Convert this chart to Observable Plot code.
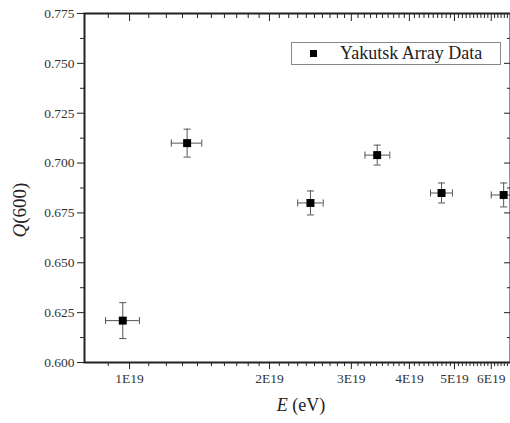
<!DOCTYPE html>
<html><head><meta charset="utf-8">
<script src="https://cdn.jsdelivr.net/npm/d3@7"></script>
<script src="https://cdn.jsdelivr.net/npm/@observablehq/plot@0.6"></script>
<style>
body{margin:0;background:#fff;}
#wrap{position:relative;width:510px;height:423px;font-family:"Liberation Serif","Times New Roman",Times,"DejaVu Serif",serif;overflow:hidden;}
#wrap svg text{font-family:"Liberation Serif","Times New Roman",Times,"DejaVu Serif",serif !important;}
.legend{position:absolute;left:291px;top:42px;width:210px;height:23px;border:1px solid #888;box-sizing:border-box;background:#fff;}
.legend .sw{position:absolute;left:18px;top:7px;width:7px;height:7px;background:#000;}
.legend .lb{position:absolute;left:48px;top:0px;font-size:18px;line-height:21px;color:#222;white-space:nowrap;}
</style></head><body><div id="wrap"></div><script>
// data
const energy = [9.67e18, 1.33e19, 2.45e19, 3.41e19, 4.69e19, 6.38e19];
const energyLow = [8.88e18, 1.23e19, 2.30e19, 3.21e19, 4.44e19, 6.0e19];
const energyHigh = [1.05e19, 1.43e19, 2.61e19, 3.63e19, 4.95e19, 6.8e19];
const q600 = [0.621, 0.710, 0.680, 0.704, 0.685, 0.684];
const q600Low = [0.612, 0.703, 0.674, 0.699, 0.680, 0.678];
const q600High = [0.630, 0.717, 0.686, 0.709, 0.690, 0.690];
const xMajor = [1e19, 2e19, 3e19, 4e19, 5e19, 6e19];
const xLabels = ["1E19", "2E19", "3E19", "4E19", "5E19", "6E19"];
const xMinor = [9e18, 1.1e19, 1.2e19, 1.3e19, 1.4e19, 1.5e19, 1.6e19, 1.7e19, 1.8e19, 1.9e19,
  2.1e19, 2.2e19, 2.3e19, 2.4e19, 2.5e19, 2.6e19, 2.7e19, 2.8e19, 2.9e19,
  3.1e19, 3.2e19, 3.3e19, 3.4e19, 3.5e19, 3.6e19, 3.7e19, 3.8e19, 3.9e19,
  4.1e19, 4.2e19, 4.3e19, 4.4e19, 4.5e19, 4.6e19, 4.7e19, 4.8e19, 4.9e19,
  5.1e19, 5.2e19, 5.3e19, 5.4e19, 5.5e19, 5.6e19, 5.7e19, 5.8e19, 5.9e19,
  6.1e19, 6.2e19, 6.3e19, 6.4e19, 6.5e19];
const yMajor = [0.600, 0.625, 0.650, 0.675, 0.700, 0.725, 0.750, 0.775];
const yLabels = ["0.600", "0.625", "0.650", "0.675", "0.700", "0.725", "0.750", "0.775"];
const yMinor = [0.6125, 0.6375, 0.6625, 0.6875, 0.7125, 0.7375, 0.7625];

const rows = energy.map((e, i) => ({e, lo: energyLow[i], hi: energyHigh[i], q: q600[i], qlo: q600Low[i], qhi: q600High[i]}));

const capH = {draw(ctx, size) { const r = Math.sqrt(size) / 2; ctx.moveTo(-r, 0); ctx.lineTo(r, 0); }};
const capV = {draw(ctx, size) { const r = Math.sqrt(size) / 2; ctx.moveTo(0, -r); ctx.lineTo(0, r); }};
const ebColor = "#555";
const blank = () => "";
const serif = "Liberation Serif, Times New Roman, DejaVu Serif, serif";
const font = {fontFamily: serif, fontSize: 13.5};

const chart = Plot.plot({
  width: 510, height: 423,
  marginLeft: 84, marginRight: 0, marginTop: 13, marginBottom: 61,
  style: {fontFamily: serif, fontSize: "13.5px", color: "#333", background: "#fff"},
  x: {type: "log", domain: [8e18, 6.6e19], label: null},
  y: {domain: [0.6, 0.775], label: null},
  marks: [
    Plot.ruleX(rows, {x: "e", y1: "qlo", y2: "qhi", stroke: ebColor, strokeWidth: 1}),
    Plot.ruleY(rows, {y: "q", x1: "lo", x2: "hi", stroke: ebColor, strokeWidth: 1}),
    Plot.dot(rows, {x: "e", y: "qlo", symbol: capH, r: 4, stroke: ebColor, fill: "none", strokeWidth: 1}),
    Plot.dot(rows, {x: "e", y: "qhi", symbol: capH, r: 4, stroke: ebColor, fill: "none", strokeWidth: 1}),
    Plot.dot(rows, {x: "lo", y: "q", symbol: capV, r: 4, stroke: ebColor, fill: "none", strokeWidth: 1}),
    Plot.dot(rows, {x: "hi", y: "q", symbol: capV, r: 4, stroke: ebColor, fill: "none", strokeWidth: 1}),
    Plot.dot(rows, {x: "e", y: "q", symbol: "square", r: 4.5, fill: "#000", stroke: "none"}),
    Plot.axisX(xMinor, {anchor: "bottom", tickSize: 4, tickFormat: blank, label: null, stroke: "#222"}),
    Plot.axisX(xMajor, {anchor: "bottom", tickSize: 7, tickPadding: 4, tickFormat: d => xLabels[xMajor.indexOf(d)], label: null, stroke: "#222", fill: "#333", ...font}),
    Plot.axisX(xMinor, {anchor: "top", tickSize: -4, tickFormat: blank, label: null, stroke: "#222"}),
    Plot.axisX(xMajor, {anchor: "top", tickSize: -7, tickFormat: blank, label: null, stroke: "#222"}),
    Plot.axisY(yMinor, {anchor: "left", tickSize: 4, tickFormat: blank, label: null, stroke: "#222"}),
    Plot.axisY(yMajor, {anchor: "left", tickSize: 7, tickPadding: 3, tickFormat: d => yLabels[yMajor.indexOf(d)], label: null, stroke: "#222", fill: "#333", ...font}),
    Plot.axisY(yMinor, {anchor: "right", tickSize: -4, tickFormat: blank, label: null, stroke: "#222"}),
    Plot.axisY(yMajor, {anchor: "right", tickSize: -7, tickFormat: blank, label: null, stroke: "#222"}),
    Plot.frame({stroke: "#222", strokeWidth: 2})
  ]
});

const wrap = document.getElementById("wrap");
wrap.appendChild(chart);

const svg = d3.select(chart);
const xl = svg.append("text").attr("x", 301).attr("y", 411).attr("text-anchor", "middle")
  .attr("font-size", 18).attr("fill", "#222");
xl.append("tspan").attr("font-style", "italic").text("E");
xl.append("tspan").text(" (eV)");
const yl = svg.append("text").attr("transform", "translate(26,210) rotate(-90)").attr("text-anchor", "middle")
  .attr("font-size", 19).attr("fill", "#222");
yl.append("tspan").attr("font-style", "italic").text("Q");
yl.append("tspan").text("(600)");

const lg = document.createElement("div");
lg.className = "legend";
lg.innerHTML = '<div class="sw"></div><div class="lb">Yakutsk Array Data</div>';
wrap.appendChild(lg);
</script></body></html>
